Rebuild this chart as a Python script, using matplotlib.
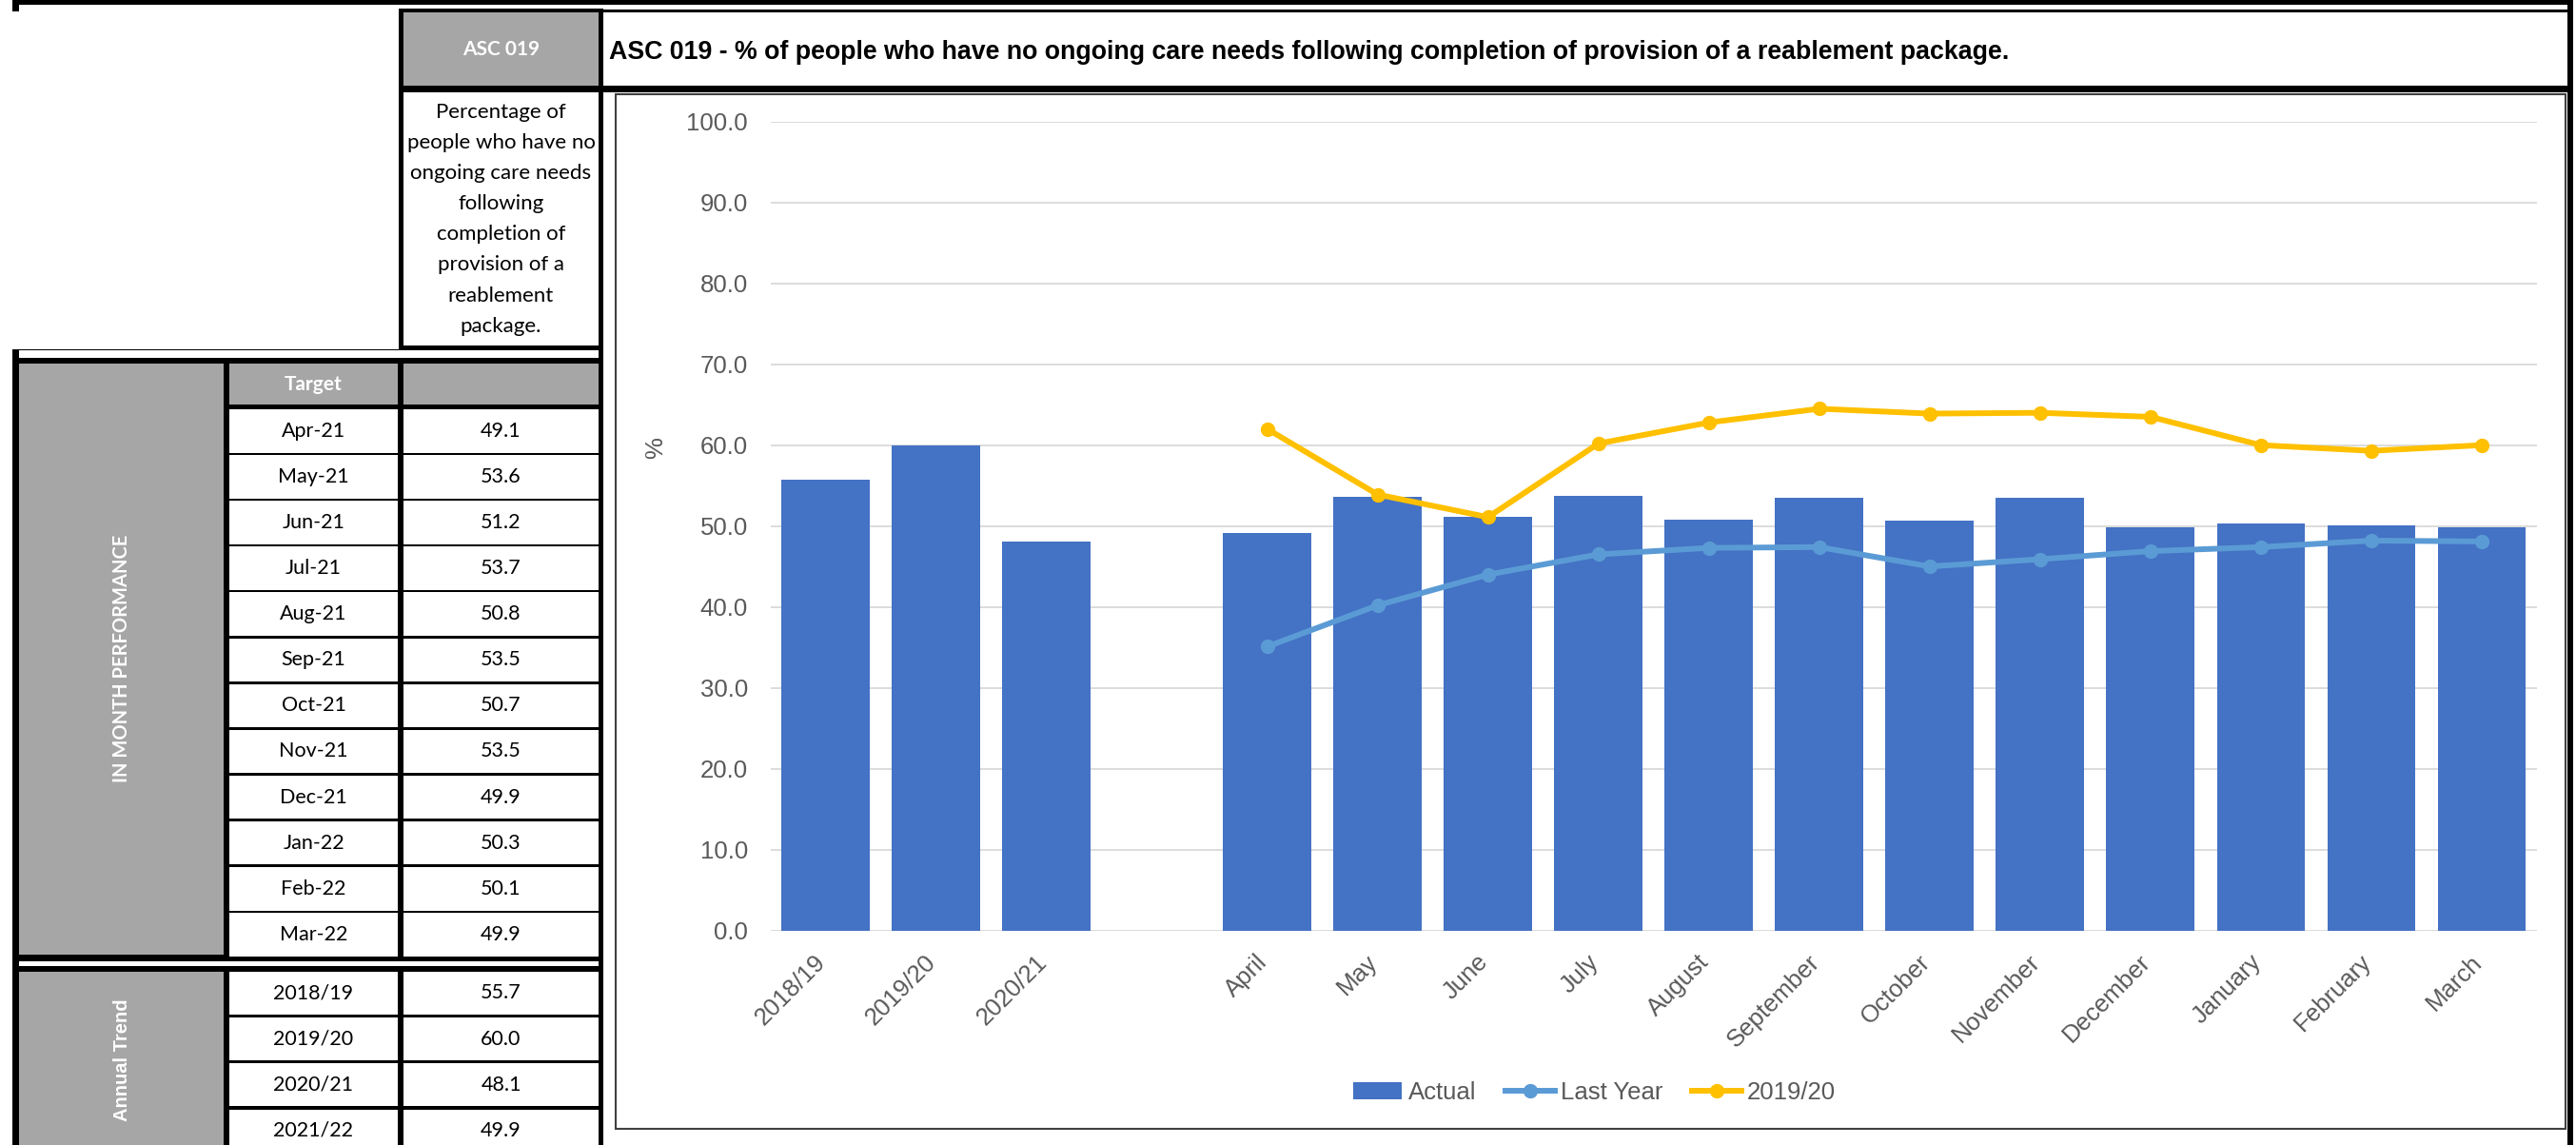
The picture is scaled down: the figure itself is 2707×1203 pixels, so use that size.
import numpy as np
import matplotlib
matplotlib.use('Agg')
import matplotlib.pyplot as plt
from matplotlib.patches import Rectangle
from matplotlib.transforms import ScaledTranslation

plt.rcParams['font.family'] = ['Liberation Sans', 'DejaVu Sans']

# --- data ---
annual_labels = ['2018/19', '2019/20', '2020/21']
annual_actual = [55.7, 60.0, 48.1]

month_labels = ['April', 'May', 'June', 'July', 'August', 'September', 'October',
                'November', 'December', 'January', 'February', 'March']
actual = [49.1, 53.6, 51.2, 53.7, 50.8, 53.5, 50.7, 53.5, 49.9, 50.3, 50.1, 49.9]
last_year = [35.1, 40.2, 44.0, 46.5, 47.3, 47.4, 45.0, 45.9, 46.9, 47.4, 48.2, 48.1]
year_2019_20 = [62.0, 53.9, 51.1, 60.2, 62.8, 64.5, 63.9, 64.0, 63.5, 60.0, 59.3, 60.0]

table_months = ['Apr-21', 'May-21', 'Jun-21', 'Jul-21', 'Aug-21', 'Sep-21',
                'Oct-21', 'Nov-21', 'Dec-21', 'Jan-22', 'Feb-22', 'Mar-22']
table_values = [49.1, 53.6, 51.2, 53.7, 50.8, 53.5, 50.7, 53.5, 49.9, 50.3, 50.1, 49.9]
trend_years = ['2018/19', '2019/20', '2020/21', '2021/22']
trend_values = [55.7, 60.0, 48.1, 49.9]

title = ('ASC 019 - % of people who have no ongoing care needs following '
         'completion of provision of a reablement package.')
desc_lines = ['Percentage of', 'people who have no', 'ongoing care needs', 'following',
              'completion of', 'provision of a', 'reablement', 'package.']

# --- styles ---
GREY = '#A6A6A6'
BLUE = '#4472C4'
LBLUE = '#5B9BD5'
GOLD = '#FFC000'
TXT = '#595959'
CELL_FONT = ['Lato', 'DejaVu Sans']

W, H = 2707, 1203
fig = plt.figure(figsize=(W / 100, H / 100), dpi=100)

# background layer in pixel coordinates (y downwards) for the table frame
bg = fig.add_axes([0, 0, 1, 1])
bg.set_xlim(0, W)
bg.set_ylim(H, 0)
bg.axis('off')


def box(x0, y0, x1, y1, color='black'):
    bg.add_patch(Rectangle((x0, y0), x1 - x0, y1 - y0, facecolor=color,
                           edgecolor='none', zorder=1))


def cell_text(x, y, s, **kw):
    kw.setdefault('family', CELL_FONT)
    kw.setdefault('fontsize', 15.5)
    bg.text(x, y, s, ha='center', va='center', zorder=2, **kw)


# outer lines
box(13, 0, 2704, 5)
box(13, 0, 20, 12)
box(2698, 0, 2704, H)

# code cell + description
box(419, 9, 634, 368)
box(424, 13, 629, 90, GREY)
box(424, 97, 629, 363, 'white')
cell_text(526.5, 52, 'ASC 019', color='white', fontweight='bold', fontsize=15)
for k, line in enumerate(desc_lines):
    cell_text(526.5, 118 + k * 32.1, line, fontsize=16)

# title cell
box(634, 10, 2698, 97)
box(634, 13, 2698, 90, 'white')
bg.text(640, 55, title, ha='left', va='center', fontsize=19.3, fontweight='bold', zorder=2)

# chart frame
bg.add_patch(Rectangle((647, 99), 2696 - 647, 1186 - 99, facecolor='white',
                       edgecolor='#404040', lw=1.5, zorder=1))

# monthly table
box(13, 367, 634, H)
box(20, 368, 629, 376, 'white')
box(20, 382, 235, 1003, GREY)
box(241, 382, 418, 425, GREY)
box(424, 382, 629, 425, GREY)
cell_text(329.5, 404, 'Target', color='white', fontweight='bold', fontsize=15)
cell_text(127.5, 692, 'IN MONTH PERFORMANCE', rotation=90, color='white',
          fontweight='bold', fontsize=14.5)
for i, (m, v) in enumerate(zip(table_months, table_values)):
    y0 = 430 + i * 48.1
    box(241, y0, 418, y0 + 45.5, 'white')
    box(424, y0, 629, y0 + 45.5, 'white')
    cell_text(329.5, y0 + 22.7, m)
    cell_text(526.5, y0 + 22.7, f'{v:.1f}')

# annual trend table
box(20, 1010, 629, 1015, 'white')
box(20, 1021, 235, H, GREY)
cell_text(128, 1114, 'Annual Trend', rotation=90, color='white', fontweight='bold',
          family=['Liberation Sans'], fontsize=14.5)
for i, (yr, v) in enumerate(zip(trend_years, trend_values)):
    y0 = 1021 + i * 48.2
    box(241, y0, 418, y0 + 44.5, 'white')
    box(424, y0, 629, y0 + 44.5, 'white')
    cell_text(329.5, y0 + 22.3, yr)
    cell_text(526.5, y0 + 22.3, f'{v:.1f}')

bg.text(689, 471, '%', rotation=90, ha='center', va='center', fontsize=18.5,
        color=TXT, zorder=2)

# --- chart ---
left, right, top, bottom = 809.5, 2666, 127.7, 977.7
ax = fig.add_axes([left / W, 1 - bottom / H, (right - left) / W, (bottom - top) / H])
ax.patch.set_alpha(0)

annual_x = np.arange(len(annual_labels))
month_x = np.arange(len(month_labels)) + len(annual_labels) + 1

ax.bar(annual_x, annual_actual, 0.8, color=BLUE, zorder=2)
h_act = ax.bar(month_x, actual, 0.8, color=BLUE, zorder=2)
h_ly, = ax.plot(month_x, last_year, color=LBLUE, lw=4.3, marker='o', ms=10, zorder=3)
h_19, = ax.plot(month_x, year_2019_20, color=GOLD, lw=4.3, marker='o', ms=10, zorder=4)

ax.set_xlim(-0.5, month_x[-1] + 0.5)
ax.set_ylim(0, 100)
ax.set_yticks(np.arange(0, 101, 10))
ax.set_yticklabels([f'{t:.1f}' for t in np.arange(0, 101, 10)])
ax.yaxis.grid(True, color='#D9D9D9', lw=1.3)
ax.set_axisbelow(True)
for s in ax.spines.values():
    s.set_visible(False)

ax.set_xticks(list(annual_x) + list(month_x))
ax.set_xticklabels(annual_labels + month_labels, rotation=45, ha='right')
ax.tick_params(axis='both', length=0, colors=TXT, labelsize=18.5)
ax.tick_params(axis='x', pad=15)
ax.tick_params(axis='y', pad=17)
shift = ScaledTranslation(5 / 100, 0, fig.dpi_scale_trans)
for lab in ax.get_xticklabels():
    lab.set_transform(lab.get_transform() + shift)

leg = fig.legend([h_act, h_ly, h_19], ['Actual', 'Last Year', '2019/20'],
                 loc='center', bbox_to_anchor=(0.619, 1 - 1148 / H), ncol=3,
                 frameon=False, fontsize=18.5, handlelength=2.0,
                 handletextpad=0.25, columnspacing=1.2)
for t in leg.get_texts():
    t.set_color(TXT)

fig.savefig('out.png', dpi=100)
